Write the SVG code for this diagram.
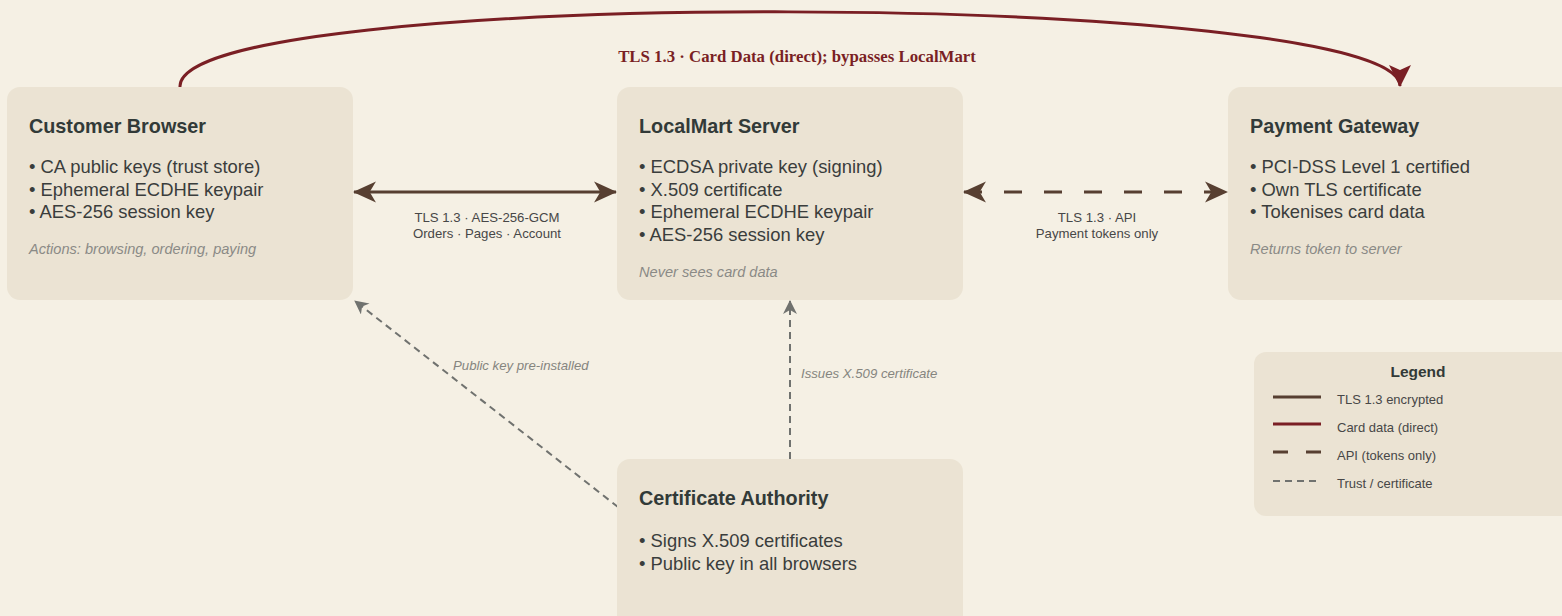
<svg xmlns="http://www.w3.org/2000/svg" width="1562" height="616" viewBox="0 0 1562 616">
  <defs>
    <style>
      .node rect { fill: #ebe3d3; }
      .title { font-family: "Liberation Sans", Arial, sans-serif; font-weight: bold; font-size: 19.8px; fill: #323a38; }
      .item { font-family: "Liberation Sans", Arial, sans-serif; font-size: 18.4px; fill: #3a3d3c; }
      .note { font-family: "Liberation Sans", Arial, sans-serif; font-style: italic; font-size: 14.6px; fill: #8a8a86; }
      .elabel { font-family: "Liberation Sans", Arial, sans-serif; font-size: 13.2px; fill: #474747; text-anchor: middle; }
      .tlabel { font-family: "Liberation Sans", Arial, sans-serif; font-style: italic; font-size: 13.2px; fill: #85857f; }
      .clabel { font-family: "Liberation Serif", "Times New Roman", serif; font-weight: bold; font-size: 16.8px; fill: #7a1f24; text-anchor: middle; }
      .tls { fill: none; stroke: #573f31; stroke-width: 3; }
      .api { fill: none; stroke: #573f31; stroke-width: 3; stroke-dasharray: 18 22; }
      .card { fill: none; stroke: #7a1f24; stroke-width: 3; }
      .trust { fill: none; stroke: #70726f; stroke-width: 2; stroke-dasharray: 7 5; }
      .lg-title { font-family: "Liberation Sans", Arial, sans-serif; font-weight: bold; font-size: 15.5px; fill: #323a38; text-anchor: middle; }
      .lg-text { font-family: "Liberation Sans", Arial, sans-serif; font-size: 13px; fill: #474747; }
    </style>
    <marker id="arrow-tls" markerUnits="userSpaceOnUse" viewBox="0 0 22 22" markerWidth="23" markerHeight="23" refX="21" refY="11" orient="auto-start-reverse">
      <path d="M0,1 L22,11 L0,21 L6,11 z" fill="#573f31"/>
    </marker>
    <marker id="arrow-card" markerUnits="userSpaceOnUse" viewBox="0 0 22 22" markerWidth="22" markerHeight="22" refX="21" refY="11" orient="auto">
      <path d="M0,0 L22,11 L0,22 L5,11 z" fill="#7a1f24"/>
    </marker>
    <marker id="arrow-trust" markerUnits="userSpaceOnUse" viewBox="0 0 14 14" markerWidth="14" markerHeight="14" refX="13" refY="7" orient="auto">
      <path d="M0,0 L14,7 L0,14 L4,7 z" fill="#70726f"/>
    </marker>
  </defs>

  <rect x="0" y="0" width="1562" height="616" fill="#f5f0e4"/>

  <!-- connectors -->
  <g id="connectors">
    <path class="card" d="M180,87 C175,-16 1400,-10 1400,86" marker-end="url(#arrow-card)"/>
    <text class="clabel" x="797" y="62">TLS 1.3 · Card Data (direct); bypasses LocalMart</text>

    <line class="tls" x1="354" y1="192" x2="616" y2="192" marker-start="url(#arrow-tls)" marker-end="url(#arrow-tls)"/>
    <text class="elabel" x="487" y="222">TLS 1.3 · AES-256-GCM</text>
    <text class="elabel" x="487" y="238">Orders · Pages · Account</text>

    <line class="api" x1="964" y1="192" x2="1227" y2="192" marker-start="url(#arrow-tls)" marker-end="url(#arrow-tls)"/>
    <text class="elabel" x="1097" y="222">TLS 1.3 · API</text>
    <text class="elabel" x="1097" y="238">Payment tokens only</text>

    <line class="trust" x1="618" y1="507" x2="355" y2="301" marker-end="url(#arrow-trust)"/>
    <text class="tlabel" x="453" y="370">Public key pre-installed</text>

    <line class="trust" x1="790" y1="459" x2="790" y2="301" marker-end="url(#arrow-trust)"/>
    <text class="tlabel" x="801" y="378">Issues X.509 certificate</text>
  </g>

  <!-- Customer Browser -->
  <g id="customer-browser" class="node">
    <rect x="7" y="87" width="346" height="213" rx="13"/>
    <text class="title" x="29" y="133">Customer Browser</text>
    <text class="item" x="29" y="173">• CA public keys (trust store)</text>
    <text class="item" x="29" y="195.5">• Ephemeral ECDHE keypair</text>
    <text class="item" x="29" y="218">• AES-256 session key</text>
    <text class="note" x="29" y="254">Actions: browsing, ordering, paying</text>
  </g>

  <!-- LocalMart Server -->
  <g id="localmart-server" class="node">
    <rect x="617" y="87" width="346" height="213" rx="13"/>
    <text class="title" x="639" y="133">LocalMart Server</text>
    <text class="item" x="639" y="173">• ECDSA private key (signing)</text>
    <text class="item" x="639" y="195.5">• X.509 certificate</text>
    <text class="item" x="639" y="218">• Ephemeral ECDHE keypair</text>
    <text class="item" x="639" y="241">• AES-256 session key</text>
    <text class="note" x="639" y="277">Never sees card data</text>
  </g>

  <!-- Payment Gateway -->
  <g id="payment-gateway" class="node">
    <rect x="1228" y="87" width="346" height="213" rx="13"/>
    <text class="title" x="1250" y="133">Payment Gateway</text>
    <text class="item" x="1250" y="173">• PCI-DSS Level 1 certified</text>
    <text class="item" x="1250" y="195.5">• Own TLS certificate</text>
    <text class="item" x="1250" y="218">• Tokenises card data</text>
    <text class="note" x="1250" y="254">Returns token to server</text>
  </g>

  <!-- Certificate Authority -->
  <g id="certificate-authority" class="node">
    <rect x="617" y="459" width="346" height="213" rx="13"/>
    <text class="title" x="639" y="505">Certificate Authority</text>
    <text class="item" x="639" y="547">• Signs X.509 certificates</text>
    <text class="item" x="639" y="570">• Public key in all browsers</text>
  </g>

  <!-- Legend -->
  <g id="legend">
    <rect x="1254" y="352" width="330" height="164" rx="12" fill="#ebe3d3"/>
    <text class="lg-title" x="1418" y="377">Legend</text>
    <line x1="1273" y1="397" x2="1321" y2="397" stroke="#573f31" stroke-width="3"/>
    <text class="lg-text" x="1337" y="404">TLS 1.3 encrypted</text>
    <line x1="1273" y1="424" x2="1321" y2="424" stroke="#7a1f24" stroke-width="3"/>
    <text class="lg-text" x="1337" y="432">Card data (direct)</text>
    <line x1="1273" y1="452" x2="1321" y2="452" stroke="#573f31" stroke-width="3" stroke-dasharray="15 18"/>
    <text class="lg-text" x="1337" y="460">API (tokens only)</text>
    <line x1="1273" y1="481" x2="1321" y2="481" stroke="#70726f" stroke-width="2" stroke-dasharray="7 5"/>
    <text class="lg-text" x="1337" y="488">Trust / certificate</text>
  </g>
</svg>
